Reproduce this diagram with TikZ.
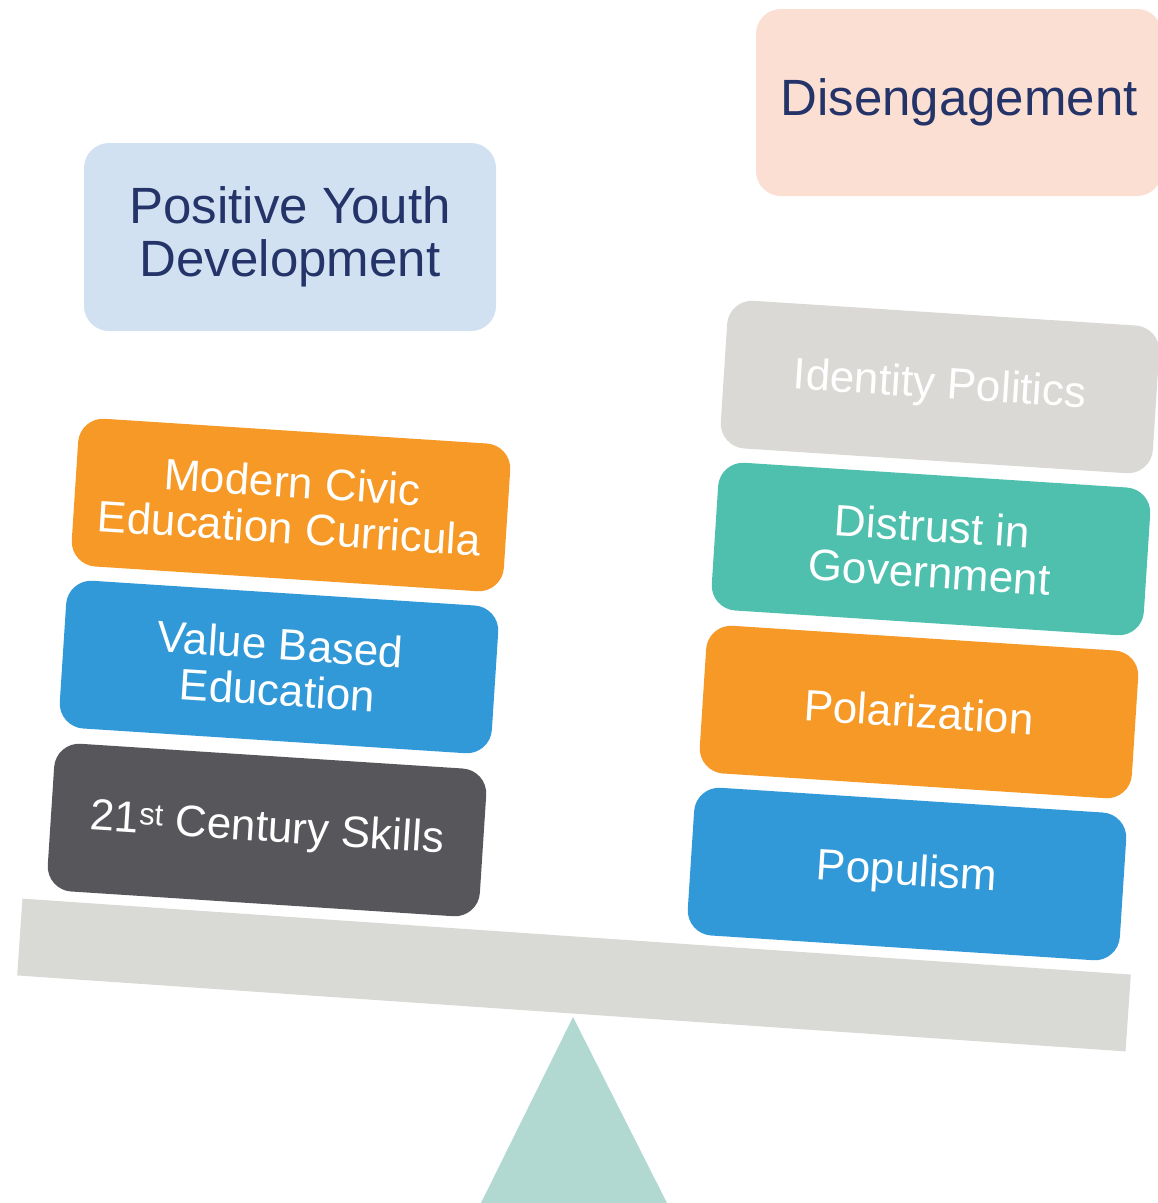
\documentclass[tikz,border=0pt]{standalone}
\usepackage{fontspec}
\setmainfont{Liberation Sans}
\definecolor{navy}{HTML}{243469}
\definecolor{pydfill}{HTML}{D2E1F1}
\definecolor{disfill}{HTML}{FBDFD2}
\definecolor{orangeC}{HTML}{F69926}
\definecolor{blueC}{HTML}{3199D8}
\definecolor{darkC}{HTML}{57565B}
\definecolor{tealC}{HTML}{4FC0AE}
\definecolor{greyC}{HTML}{DAD9D5}
\definecolor{barC}{HTML}{D9DAD5}
\definecolor{triC}{HTML}{B1D8D1}
\begin{document}
\begin{tikzpicture}[x=1pt,y=-1pt,
  block/.style={rounded corners=25pt, minimum width=433pt, minimum height=148pt,
    inner sep=0pt, align=center, text=white, rotate=-3.7,
    font=\fontsize{44}{46}\selectfont},
  topbox/.style={rounded corners=25pt, inner sep=0pt, align=center, text=navy}]
\useasboundingbox (0,0) rectangle (1158,1203);
% fulcrum
\fill[triC] (573,1017) -- (668,1205) -- (480,1205) -- cycle;
% beam
\node[fill=barC, minimum width=1111pt, minimum height=77pt, inner sep=0pt, rotate=-3.92] (beam) at (574,975) {};
% top labels
\node[topbox, fill=pydfill, minimum width=412pt, minimum height=188pt,
  font=\fontsize{51}{53}\selectfont] (pyd) at (290,237) {Positive Youth\\Development};
\node[topbox, fill=disfill, minimum width=406pt, minimum height=187pt,
  font=\fontsize{51}{53}\selectfont] (dis) at (959,102.5) {Disengagement};
% left stack
\node[block, fill=orangeC] (mcec) at (291,505) {Modern Civic\\Education Curricula};
\node[block, fill=blueC] (vbe) at (279,667) {Value Based\\Education};
\node[block, fill=darkC] (cs) at (267,830) {21\textsuperscript{st} Century Skills};
% right stack
\node[block, fill=greyC] (ip) at (940,387) {Identity Politics};
\node[block, fill=tealC] (dig) at (931,549) {Distrust in\\Government};
\node[block, fill=orangeC] (pol) at (919,712) {Polarization};
\node[block, fill=blueC] (pop) at (907,874) {Populism};
\end{tikzpicture}
\end{document}
